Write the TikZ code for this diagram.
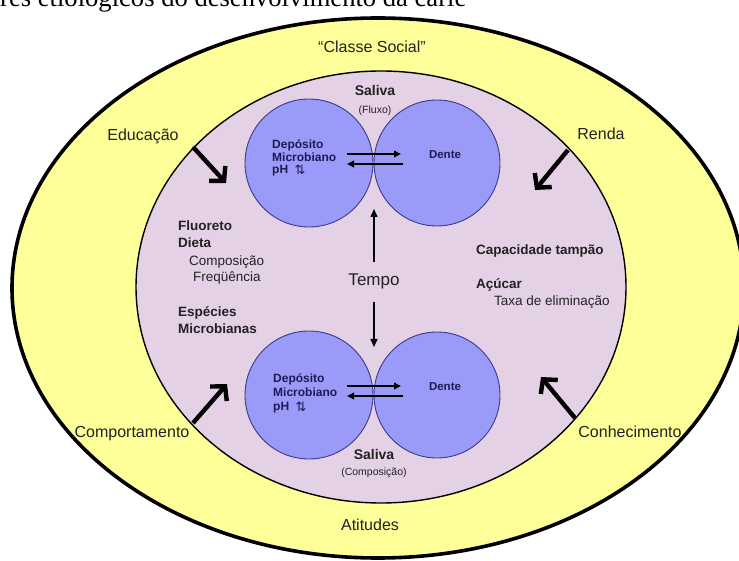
\documentclass[tikz,border=0pt]{standalone}
\usepackage{fontspec}
\setmainfont{Liberation Sans}
\newfontfamily\titlefont{Liberation Serif}
\newfontfamily\symfont{DejaVu Sans}
\usetikzlibrary{arrows.meta}
\definecolor{ringyellow}{HTML}{FFFF99}
\definecolor{lilac}{HTML}{E5D1E5}
\definecolor{blobfill}{HTML}{9A9AF8}
\definecolor{blobline}{HTML}{3A3A8A}
\definecolor{navytext}{HTML}{1C1C55}
\definecolor{darktext}{HTML}{222222}
\tikzset{
  ringlabel/.style={font=\fontsize{16}{18}\selectfont, text=darktext, inner sep=0pt, anchor=mid},
  boldlabel/.style={font=\fontsize{13.5}{15}\selectfont\bfseries, text=darktext, inner sep=0pt, anchor=mid west},
  plainlabel/.style={font=\fontsize{13.5}{15}\selectfont, text=darktext, inner sep=0pt, anchor=mid west},
  blobtext/.style={font=\fontsize{12}{13}\selectfont\bfseries, text=navytext, inner sep=0pt, anchor=mid west},
  dentetext/.style={font=\fontsize{11.5}{13}\selectfont\bfseries, text=navytext, inner sep=0pt, anchor=mid},
  salivatext/.style={font=\fontsize{14}{16}\selectfont\bfseries, text=darktext, inner sep=0pt, anchor=mid},
  salivasub/.style={font=\fontsize{10.5}{12}\selectfont, text=darktext, inner sep=0pt, anchor=mid},
  blob/.style={fill=blobfill, draw=blobline, line width=0.9pt},
  bigarrow/.style={line width=4.4pt, black, -{Straight Barb[length=10pt,width=22pt]}},
  smallarrow/.style={line width=1.9pt, black, -{Triangle[length=7pt,width=6.5pt]}},
  timearrow/.style={line width=1.5pt, black, -{Triangle[length=8pt,width=7pt]}}
}
\begin{document}
\begin{tikzpicture}[x=1pt,y=-1pt]
\useasboundingbox (0,0) rectangle (739,561);
\clip (0,0) rectangle (739,561);
\fill[white] (0,0) rectangle (739,561);

% title (cut at top)
\node[font=\titlefont\fontsize{26.6}{30}\selectfont, inner sep=0pt, anchor=base west] (title) at (0,7) {res etiológicos do desenvolvimento da cárie};

% outer ring
\draw[fill=ringyellow, line width=3.6pt] (378,288) ellipse [x radius=366, y radius=270];
% inner ellipse
\draw[fill=lilac, line width=1.4pt] (381,287) ellipse [x radius=245, y radius=216];

% circles
\draw[blob] (309,163) circle [radius=64];
\draw[blob] (437,163) circle [radius=63];
\draw[blob] (309,395) circle [radius=64];
\draw[blob] (437,395) circle [radius=63];

% ring labels
\node[ringlabel] (classe) at (372,50) {“Classe Social”};
\node[ringlabel] (educ) at (143,138) {Educação};
\node[ringlabel] (renda) at (601,137) {Renda};
\node[ringlabel] (comport) at (132,435) {Comportamento};
\node[ringlabel] (conhec) at (630,435) {Conhecimento};
\node[ringlabel] (atit) at (370,528) {Atitudes};

% big arrows
\coordinate (eduS) at (193,147);  \coordinate (eduE) at (226,183);
\coordinate (renS) at (568,150);  \coordinate (renE) at (535,190);
\coordinate (comS) at (193,423);  \coordinate (comE) at (227,384);
\coordinate (conS) at (575,418);  \coordinate (conE) at (541,377);
\draw[bigarrow] (eduS) -- (eduE);
\draw[bigarrow] (renS) -- (renE);
\draw[bigarrow] (comS) -- (comE);
\draw[bigarrow] (conS) -- (conE);

% saliva labels
\node[salivatext] (saliva1) at (375,93) {Saliva};
\node[salivasub] (fluxo) at (375,111) {(Fluxo)};
\node[salivatext] (saliva2) at (374,457) {Saliva};
\node[salivasub] (compsal) at (374,473) {(Composição)};

% top circle texts
\node[blobtext] (dep1) at (272,146) {Depósito};
\node[blobtext] (mic1) at (272,159) {Microbiano};
\node[blobtext] (ph1) at (272,171) {pH};
\node[font=\symfont\fontsize{13}{14}\selectfont, text=navytext, inner sep=0pt, anchor=mid] (phar1) at (300,172) {⇅};
\node[dentetext] (dente1) at (445,156) {Dente};
\coordinate (a1s) at (347,154); \coordinate (a1e) at (401,154);
\coordinate (b1s) at (403,164); \coordinate (b1e) at (347,164);
\draw[smallarrow] (a1s) -- (a1e);
\draw[smallarrow] (b1s) -- (b1e);

% bottom circle texts
\node[blobtext] (dep2) at (273,380) {Depósito};
\node[blobtext] (mic2) at (273,394) {Microbiano};
\node[blobtext] (ph2) at (273,408) {pH};
\node[font=\symfont\fontsize{13}{14}\selectfont, text=navytext, inner sep=0pt, anchor=mid] (phar2) at (301,409) {⇅};
\node[dentetext] (dente2) at (445,388) {Dente};
\coordinate (a2s) at (347,386); \coordinate (a2e) at (401,386);
\coordinate (b2s) at (403,396); \coordinate (b2e) at (347,396);
\draw[smallarrow] (a2s) -- (a2e);
\draw[smallarrow] (b2s) -- (b2e);

% tempo
\node[font=\fontsize{17}{19}\selectfont, text=darktext, inner sep=0pt, anchor=mid] (tempo) at (374,283) {Tempo};
\coordinate (tupS) at (374,262); \coordinate (tupE) at (374,209);
\coordinate (tdnS) at (374,302); \coordinate (tdnE) at (374,347);
\draw[timearrow] (tupS) -- (tupE);
\draw[timearrow] (tdnS) -- (tdnE);

% left texts
\node[boldlabel] (fluor) at (178,228) {Fluoreto};
\node[boldlabel] (dieta) at (178,245) {Dieta};
\node[plainlabel] (compo) at (189,263) {Composição};
\node[plainlabel] (freq) at (193,279) {Freqüência};
\node[boldlabel] (espec) at (178,314) {Espécies};
\node[boldlabel] (micro) at (178,331) {Microbianas};

% right texts
\node[boldlabel] (capac) at (476,252) {Capacidade tampão};
\node[boldlabel] (acuc) at (476,286) {Açúcar};
\node[plainlabel] (taxa) at (494,303) {Taxa de eliminação};
\end{tikzpicture}
\end{document}
